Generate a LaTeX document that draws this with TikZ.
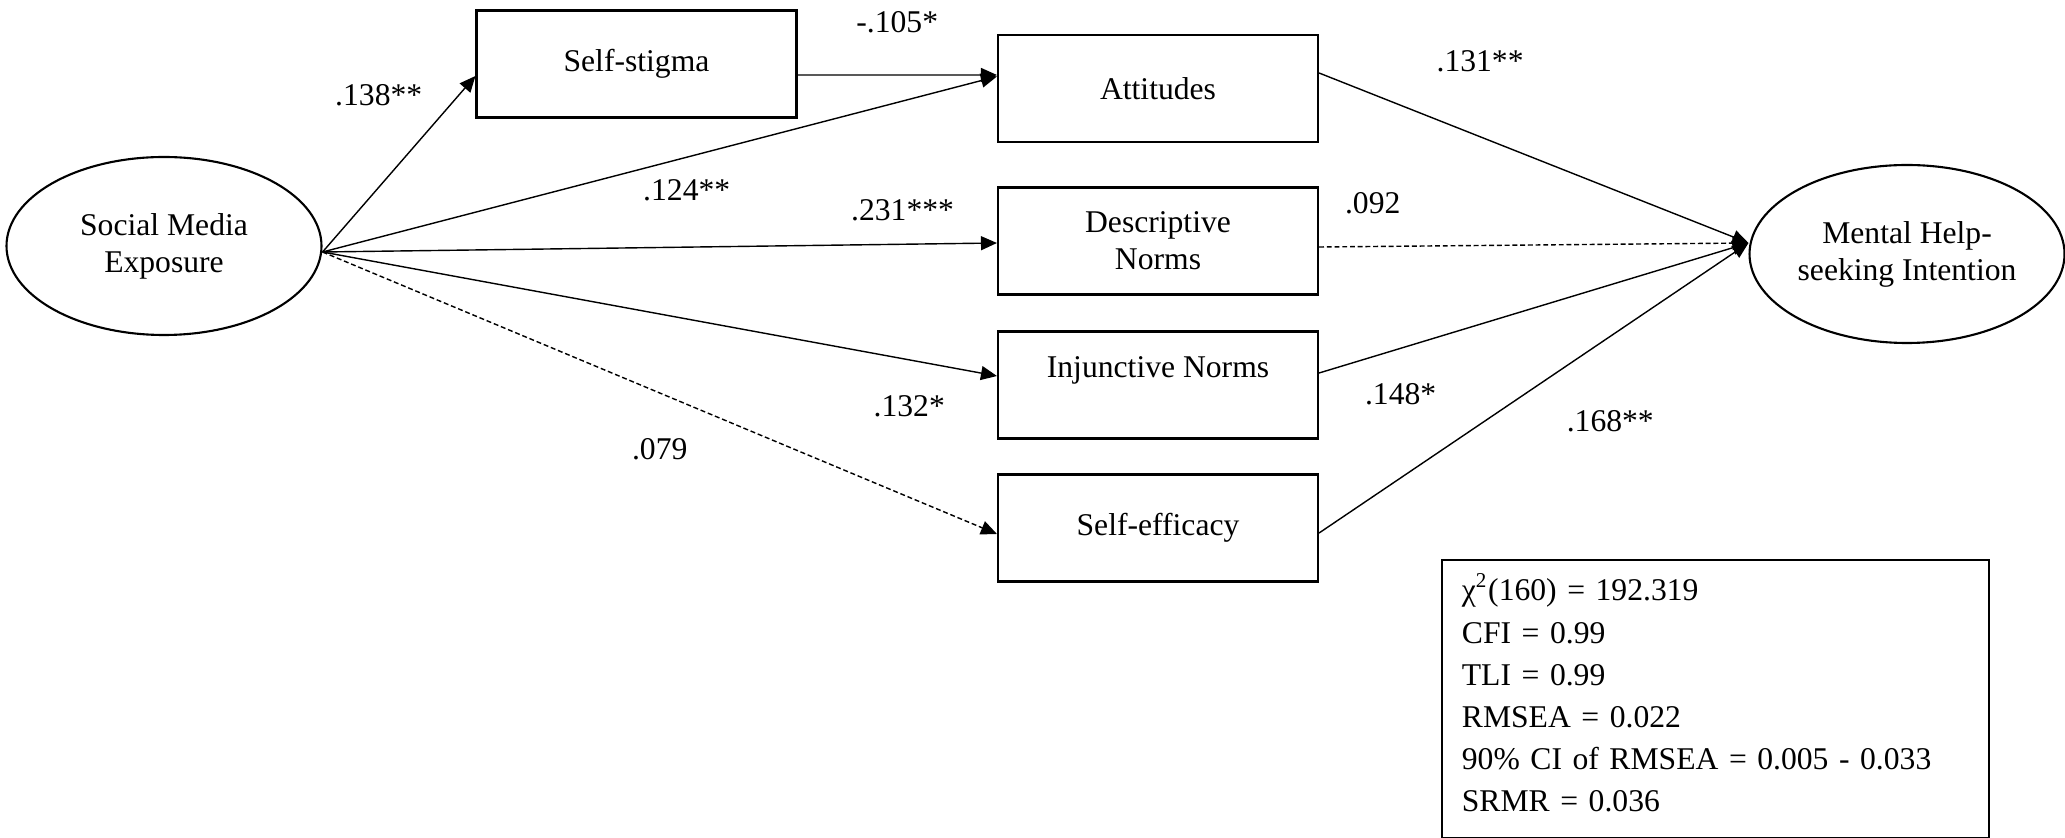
\documentclass[tikz,border=0pt]{standalone}
\usepackage{fontspec}
\setmainfont{Liberation Serif}
\usetikzlibrary{arrows.meta,shapes.geometric}

\begin{document}
\begin{tikzpicture}[>={Triangle[length=1.6mm,width=1.4mm]},line width=0.4pt,
    every node/.style={font=\fontsize{9}{10.5}\selectfont},
    var/.style={draw,line width=0.6pt,minimum width=3.2cm,minimum height=1.07cm,inner sep=0pt,align=center},
    lat/.style={draw,ellipse,line width=0.6pt,minimum width=3.15cm,minimum height=1.78cm,inner sep=0pt,align=center},
    ns/.style={dash pattern=on 1.4pt off 0.8pt}]
    \useasboundingbox (0,0) rectangle (20.65,-8.38);
    \node[lat] (sme) at (1.64,-2.46) {Social Media\\Exposure};
    \node[var] (stig) at (6.365,-0.64) {Self-stigma};
    \node[var] (att) at (11.58,-0.885) {Attitudes};
    \node[var] (desc) at (11.58,-2.41) {Descriptive\\Norms};
    \node[var] (inj) at (11.58,-3.85) {Injunctive Norms\\\mbox{}};
    \node[var] (eff) at (11.58,-5.28) {Self-efficacy};
    \node[lat] (mhsi) at (19.07,-2.54) {Mental Help-\\seeking Intention};
    \draw[->] ([yshift=-0.6mm]sme.east) -- node[pos=0.89,left=2.4mm] {.138**} ([yshift=-1.2mm]stig.west);
    \draw[->] ([yshift=-1.1mm]stig.east) -- node[above=3mm] {-.105*} ([yshift=1.35mm]att.west);
    \draw[->] ([yshift=-0.6mm]sme.east) -- node[pos=0.54,below=1mm] {.124**} ([yshift=1.2mm]att.west);
    \draw[->] ([yshift=-0.6mm]sme.east) -- node[pos=0.86,above=1.1mm] {.231***} ([yshift=-0.2mm]desc.west);
    \draw[->] ([yshift=-0.6mm]sme.east) -- node[pos=0.87,below=2.3mm] {.132*} ([yshift=0.9mm]inj.west);
    \draw[->,ns] ([yshift=-0.6mm]sme.east) -- node[below=3.3mm] {.079} ([yshift=-0.6mm]eff.west);
    \draw[->] ([yshift=1.55mm]att.east) -- node[pos=0.375,above=5.2mm] {.131**} ([yshift=1.1mm]mhsi.west);
    \draw[->,ns] ([yshift=-0.6mm]desc.east) -- node[pos=0.125,above=2mm] {.092} ([yshift=1.1mm]mhsi.west);
    \draw[->] ([yshift=1.2mm]inj.east) -- node[pos=0.19,below=2.3mm] {.148*} ([yshift=1.1mm]mhsi.west);
    \draw[->] ([yshift=-0.5mm]eff.east) -- node[pos=0.385,right=7mm] {.168**} ([yshift=1.1mm]mhsi.west);
    \node[draw,line width=0.5pt,anchor=north west,minimum width=5.47cm,minimum height=2.78cm,
      text width=5.07cm,inner xsep=0.2cm,align=left,font=\fontsize{9}{12}\selectfont] (fit) at (14.41,-5.59)
      {χ\textsuperscript{2}(160) = 192.319\\CFI = 0.99\\TLI = 0.99\\RMSEA = 0.022\\90\% CI of RMSEA = 0.005 - 0.033\\SRMR = 0.036\\[-8.5pt]\mbox{}};
  \end{tikzpicture}
\end{document}
